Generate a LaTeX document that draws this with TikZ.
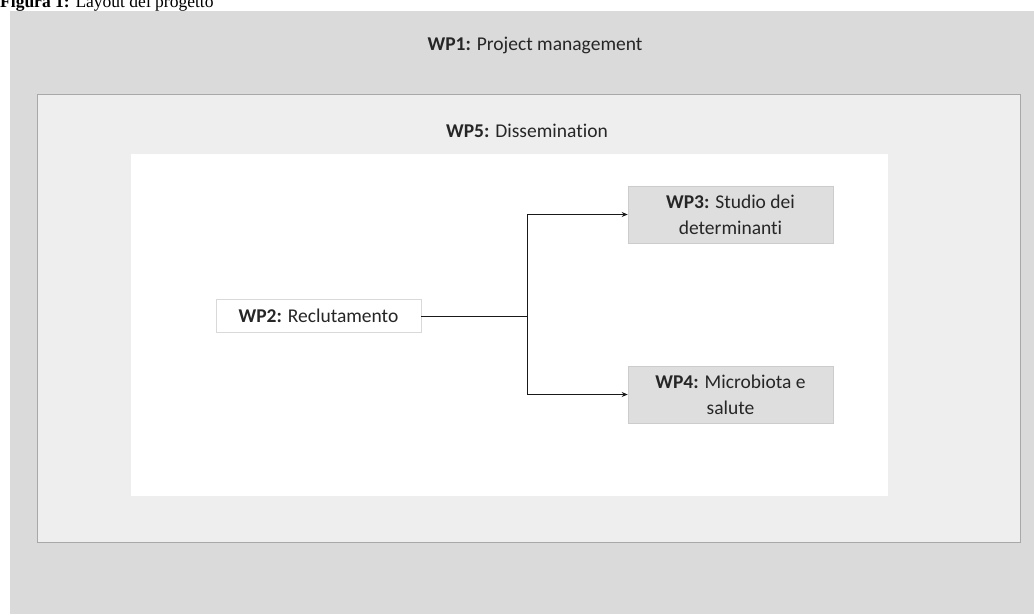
\documentclass[tikz,border=0pt]{standalone}
\usepackage{fontspec}
\setmainfont{Carlito}[Ligatures=NoCommon]
\newfontfamily\capfont{Liberation Serif}
\usetikzlibrary{arrows.meta}
\definecolor{outergray}{HTML}{DADADA}
\definecolor{midgray}{HTML}{EEEEEE}
\definecolor{boxgray}{HTML}{DEDEDE}
\definecolor{edgegray}{HTML}{A8A8A8}
\tikzset{
  wpbox/.style={draw=#1, line width=0.6pt, inner sep=0pt, align=center, font=\fontsize{19.5}{26}\selectfont, text=black!85},
  link/.style={draw=black!90, line width=1pt},
  arr/.style={link, -{Stealth[length=6pt,width=5pt]}},
  title/.style={font=\fontsize{19.5}{24}\selectfont, text=black!85}
}
\begin{document}
\begin{tikzpicture}[x=1pt,y=-1pt]
\useasboundingbox (0,0) rectangle (1034,614);
\fill[white] (0,0) rectangle (1034,614);
% outer WP1
\fill[outergray] (10,11) rectangle (1034,614);
\node[title] (wp1) at (535,45) {\textbf{WP1:} Project management};
% WP5
\filldraw[fill=midgray, draw=edgegray, line width=0.6pt] (37,94) rectangle (1020,542);
\node[title] (wp5) at (527,131) {\textbf{WP5:} Dissemination};
% inner white
\fill[white] (131,154) rectangle (888,496);
% boxes
\node[wpbox=black!15, fill=white, minimum width=205pt, minimum height=33pt] (wp2) at (318.5,316) {\textbf{WP2:} Reclutamento};
\node[wpbox=black!20, fill=boxgray, minimum width=205pt, minimum height=57pt] (wp3) at (730.5,214.5) {\textbf{WP3:} Studio dei\\determinanti};
\node[wpbox=black!20, fill=boxgray, minimum width=205pt, minimum height=57pt] (wp4) at (730.5,394.5) {\textbf{WP4:} Microbiota e\\salute};
\coordinate (j) at (527,316);
\draw[link] (wp2.east) -- (j);
\draw[arr] (j) |- (wp3.west);
\draw[arr] (j) |- (wp4.west);
% caption
\node[anchor=base west, inner sep=0pt, font=\capfont\fontsize{17.5}{20}\selectfont] (cap) at (0,7.5) {\textbf{Figura 1:} Layout del progetto};
\end{tikzpicture}
\end{document}
